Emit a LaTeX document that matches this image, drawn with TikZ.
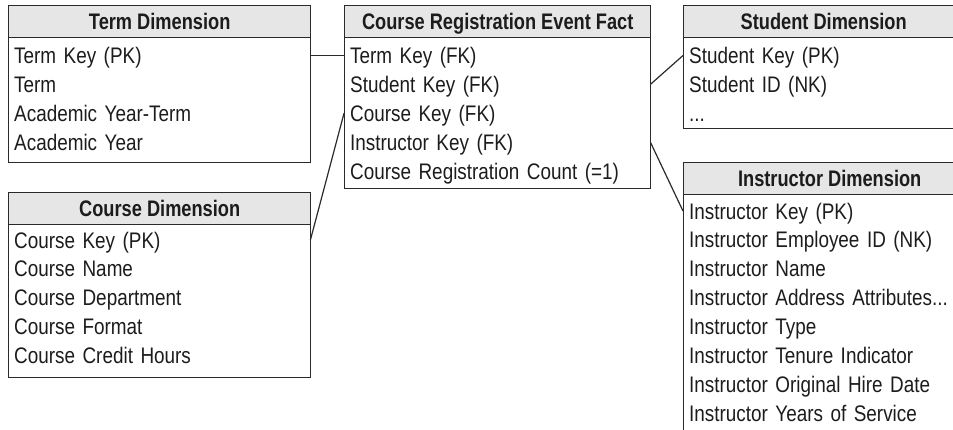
\documentclass[tikz,border=0pt]{standalone}
\usepackage{fontspec}
\setmainfont{Liberation Sans}[FakeStretch=0.84,BoldFeatures={FakeStretch=0.81}]
\definecolor{ink}{HTML}{1C1C1C}
\definecolor{edge}{HTML}{2A2A2A}
\definecolor{hdrfill}{HTML}{E6E6E6}
\newcommand{\myrowfont}{\fontsize{22.5}{26}\selectfont\spaceskip=0.22em plus 0.05em minus 0.03em\relax}
\begin{document}
\begin{tikzpicture}[x=1pt,y=-1pt,
  every node/.style={font=\fontsize{22.5}{26}\selectfont, text=ink},
  hdr/.style={draw=edge, fill=hdrfill, line width=1.4pt, anchor=north west, minimum height=32pt, inner sep=0pt, font=\fontsize{22.5}{26}\selectfont\bfseries, text height=16.1pt, text depth=0pt},
  body/.style={draw=edge, line width=1.4pt, anchor=north west, inner sep=0pt},
  row/.style={anchor=west, inner xsep=6pt, inner ysep=0pt, text height=16.1pt, text depth=0pt, align=left, font=\myrowfont},
  link/.style={draw=edge, line width=1.2pt}
]
\useasboundingbox (0,0) rectangle (953,429);
\clip (0,0) rectangle (953,429);

% Term Dimension
\node[body, minimum width=302pt, minimum height=125pt] (termb) at (8,37) {};
\node[hdr, minimum width=302pt] (termh) at (8,5) {Term Dimension};
\node[row, text width=290pt] (t1) at (8,55.5) {Term Key (PK)};
\node[row, text width=290pt] (t2) at (8,84.4) {Term};
\node[row, text width=290pt] (t3) at (8,113.3) {Academic Year-Term};
\node[row, text width=290pt] (t4) at (8,142.2) {Academic Year};

% Fact
\node[body, minimum width=306pt, minimum height=151pt] (factb) at (344,37) {};
\node[hdr, minimum width=306pt] (facth) at (344,5) {Course Registration Event Fact};
\node[row, text width=294pt] (f1) at (344,55.5) {Term Key (FK)};
\node[row, text width=294pt] (f2) at (344,84.4) {Student Key (FK)};
\node[row, text width=294pt] (f3) at (344,113.3) {Course Key (FK)};
\node[row, text width=294pt] (f4) at (344,142.2) {Instructor Key (FK)};
\node[row, text width=294pt] (f5) at (344,171.1) {Course Registration Count (=1)};

% Student Dimension
\node[body, minimum width=280pt, minimum height=91pt] (studb) at (683,37) {};
\node[hdr, minimum width=280pt] (studh) at (683,5) {Student Dimension};
\node[row, text width=268pt] (s1) at (683,55.5) {Student Key (PK)};
\node[row, text width=268pt] (s2) at (683,84.4) {Student ID (NK)};
\node[row, text width=268pt] (s3) at (683,113.3) {...};

% Course Dimension
\node[body, minimum width=302pt, minimum height=153pt] (courb) at (8,224) {};
\node[hdr, minimum width=302pt] (courh) at (8,192) {Course Dimension};
\node[row, text width=290pt] (c1) at (8,240) {Course Key (PK)};
\node[row, text width=290pt] (c2) at (8,268.9) {Course Name};
\node[row, text width=290pt] (c3) at (8,297.8) {Course Department};
\node[row, text width=290pt] (c4) at (8,326.7) {Course Format};
\node[row, text width=290pt] (c5) at (8,355.6) {Course Credit Hours};

% Instructor Dimension
\node[body, minimum width=292pt, minimum height=260pt] (instb) at (683,193) {};
\node[hdr, minimum width=292pt] (insth) at (683,162) {Instructor Dimension};
\node[row, text width=280pt] (i1) at (683,211) {Instructor Key (PK)};
\node[row, text width=280pt] (i2) at (683,239.9) {Instructor Employee ID (NK)};
\node[row, text width=280pt] (i3) at (683,268.8) {Instructor Name};
\node[row, text width=280pt] (i4) at (683,297.7) {Instructor Address Attributes...};
\node[row, text width=280pt] (i5) at (683,326.6) {Instructor Type};
\node[row, text width=280pt] (i6) at (683,355.5) {Instructor Tenure Indicator};
\node[row, text width=280pt] (i7) at (683,384.4) {Instructor Original Hire Date};
\node[row, text width=280pt] (i8) at (683,413.3) {Instructor Years of Service};

% Connectors
\draw[link] (t1.east) -- (f1.west);
\draw[link] (f3.west) -- (c1.east);
\draw[link] (f2.east) -- (s1.west);
\draw[link] (f4.east) -- (i1.west);
\end{tikzpicture}
\end{document}
